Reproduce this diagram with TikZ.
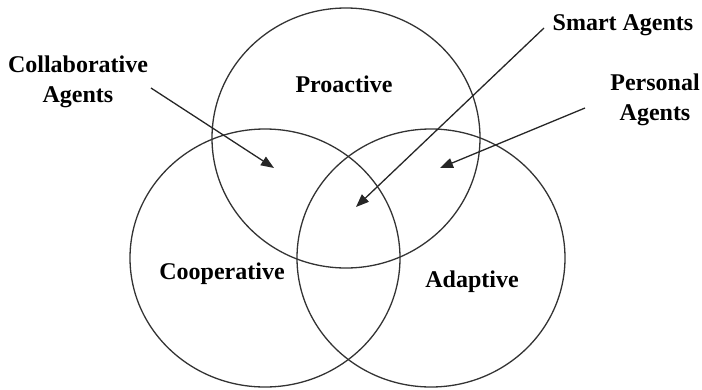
\documentclass[tikz,border=0pt]{standalone}
\usepackage{fontspec}
\setmainfont{Liberation Serif}
\usepackage{tikz}
\usetikzlibrary{arrows.meta, positioning}

\begin{document}
\begin{tikzpicture}[x=1pt, y=-1pt,
    ring/.style={draw=black!80, line width=1.3pt},
    tag/.style={font=\fontsize{24}{30}\selectfont\bfseries, align=center, inner sep=0pt},
    pointer/.style={draw=black!85, line width=1.3pt, -{Triangle[length=13pt, width=10pt]}}]
    \useasboundingbox (0,0) rectangle (702,389);

    % the three sets
    \draw[ring] (346,138) ellipse [x radius=134pt, y radius=130pt];
    \draw[ring] (265,258) ellipse [x radius=135pt, y radius=129pt];
    \draw[ring] (431,258) ellipse [x radius=134pt, y radius=129pt];

    \node[tag] (proactive) at (344,84) {Proactive};
    \node[tag] (cooperative) at (222,274) {Cooperative};
    \node[tag] (adaptive) at (472,282) {Adaptive};

    % agent kinds pointing into the overlaps
    \node[tag] (collab) at (78,82) {Collaborative\\Agents};
    \node[tag] (smart) at (623,25) {Smart Agents};
    \node[tag] (personal) at (655,100) {Personal\\Agents};

    \coordinate (collab-from) at (151,88);
    \coordinate (collab-to) at (274,168);
    \coordinate (smart-from) at (544,28);
    \coordinate (smart-to) at (356,207);
    \coordinate (personal-from) at (585,108);
    \coordinate (personal-to) at (440,168);

    \draw[pointer] (collab-from) -- (collab-to);
    \draw[pointer] (smart-from) -- (smart-to);
    \draw[pointer] (personal-from) -- (personal-to);
\end{tikzpicture}
\end{document}
